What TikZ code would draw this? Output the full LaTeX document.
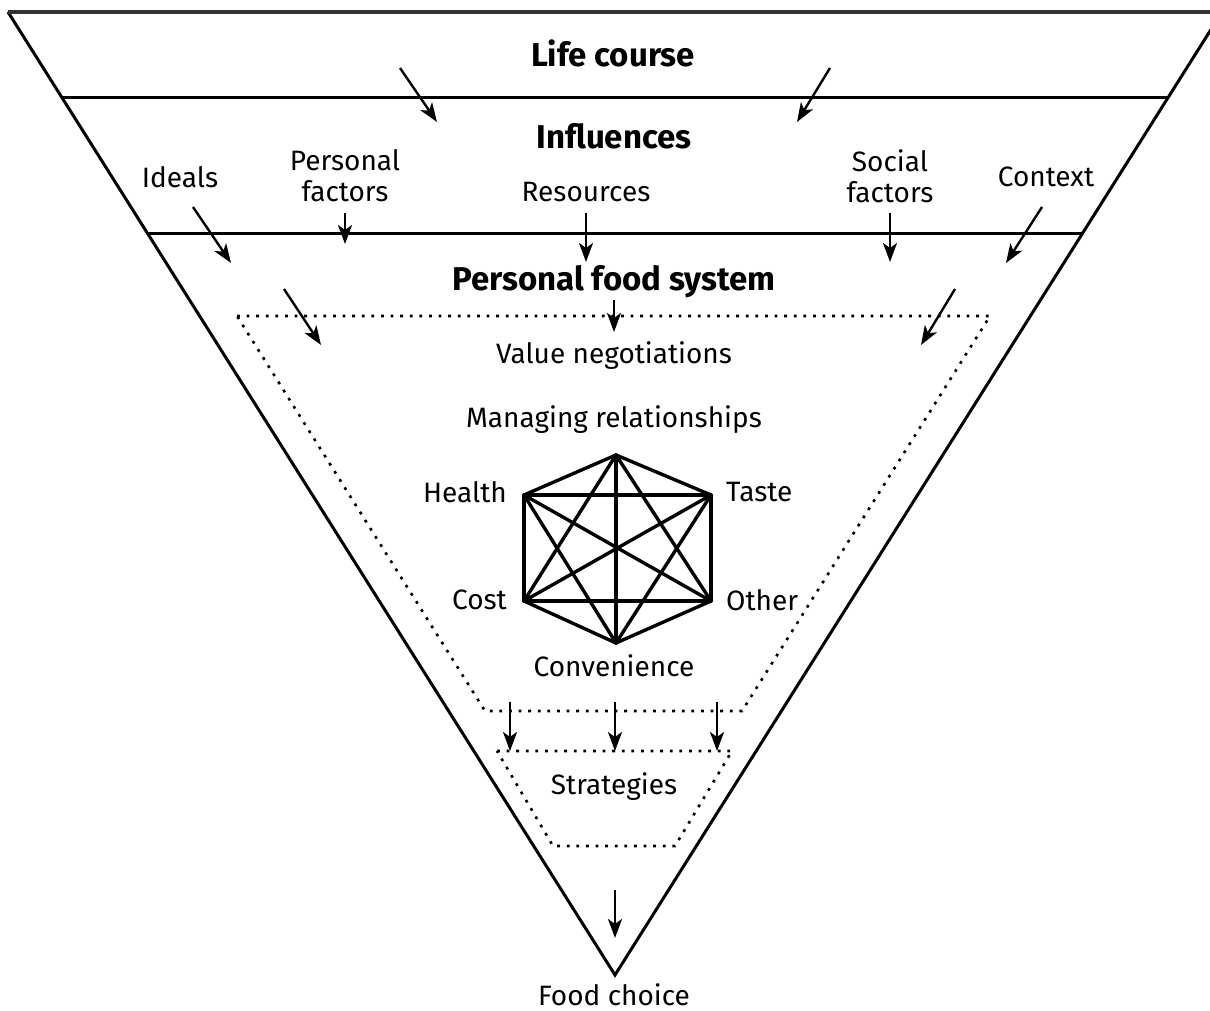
\documentclass[tikz,border=0pt]{standalone}
\usepackage{fontspec}
\setmainfont{Fira Sans}
\usetikzlibrary{arrows.meta,calc}
\begin{document}
\begin{tikzpicture}[x=1pt,y=-1pt,
  lbl/.style={font=\fontsize{28}{31}\selectfont, inner sep=0pt, align=center},
  head/.style={font=\fontsize{33}{36}\selectfont\bfseries, inner sep=0pt},
  arr/.style={line width=2.4pt, -{Stealth[length=19pt,width=14pt,inset=5pt]}},
  frame/.style={line width=3pt},
  dots/.style={line width=2.6pt, dash pattern=on 2.8pt off 6.8pt},
  edge/.style={line width=3.4pt, line cap=round}]
\useasboundingbox (0,0) rectangle (1210,1011);
\begin{scope}
\clip (0,0) rectangle (1210,1011);
% frame
\coordinate (TL) at (8,12);
\coordinate (TR) at (1222,12);
\coordinate (A) at (615,975);
\draw[frame, line join=miter] (TL) -- (A) -- (TR);
\draw[line width=4pt, black!80] (TL) -- (TR);
\coordinate (L2) at ($(TL)!0.0883!(A)$);
\coordinate (R2) at ($(TR)!0.0883!(A)$);
\coordinate (L3) at ($(TL)!0.2295!(A)$);
\coordinate (R3) at ($(TR)!0.2295!(A)$);
\draw[frame] (L2) -- (R2);
\draw[frame] (L3) -- (R3);
\end{scope}

% headings
\node[head] (life) at (613,53) {Life course};
\node[head] (infl) at (614,136) {Influences};
\node[head] (pfs) at (614,282) {Personal food system};

% influence labels
\node[lbl] (ideals) at (180,177) {Ideals};
\node[lbl] (pers) at (345,176) {Personal\\factors};
\node[lbl] (res) at (586,192) {Resources};
\node[lbl] (soc) at (890,176) {Social\\factors};
\node[lbl] (ctx) at (1046,177) {Context};

\node[lbl] (val) at (614,356) {Value negotiations};
\node[lbl] (man) at (614,420) {Managing relationships};

% hexagon
\coordinate (hT) at (616,455);
\coordinate (hH) at (524,495);
\coordinate (hTa) at (711,495);
\coordinate (hC) at (524,601);
\coordinate (hO) at (711,601);
\coordinate (hB) at (616,643);
\foreach \a/\b in {hT/hH,hT/hTa,hT/hC,hT/hO,hT/hB,hH/hTa,hH/hC,hH/hO,hH/hB,hTa/hC,hTa/hO,hTa/hB,hC/hO,hC/hB,hO/hB}
  \draw[edge] (\a) -- (\b);

\node[lbl, anchor=east] (health) at (507,492) {Health};
\node[lbl, anchor=west] (taste) at (726,492) {Taste};
\node[lbl, anchor=east] (cost) at (507,600) {Cost};
\node[lbl, anchor=west] (other) at (726,600) {Other};
\node[lbl] (conv) at (614,666) {Convenience};

\node[lbl] (strat) at (614,787) {Strategies};
\node[lbl] (food) at (614,995) {Food choice};

% dotted regions
\draw[dots] (237,316) -- (990,316) -- (742,711) -- (485,711) -- cycle;
\draw[dots] (497,751) -- (732,751) -- (675,846) -- (553,846) -- cycle;

% arrows
\coordinate (a1s) at (400,68);  \coordinate (a1e) at (437,122);
\coordinate (a2s) at (830,68);  \coordinate (a2e) at (797,122);
\draw[arr] (a1s) -- (a1e);
\draw[arr] (a2s) -- (a2e);

\coordinate (b1s) at (193,207); \coordinate (b1e) at (231,263);
\coordinate (b2s) at (345,213); \coordinate (b2e) at (345,244);
\coordinate (b3s) at (586,213); \coordinate (b3e) at (586,262);
\coordinate (b4s) at (890,213); \coordinate (b4e) at (890,262);
\coordinate (b5s) at (1042,207); \coordinate (b5e) at (1006,263);
\foreach \i in {1,...,5} \draw[arr] (b\i s) -- (b\i e);

\coordinate (c1s) at (284,289); \coordinate (c1e) at (321,345);
\coordinate (c2s) at (614,300); \coordinate (c2e) at (614,332);
\coordinate (c3s) at (955,289); \coordinate (c3e) at (921,345);
\foreach \i in {1,2,3} \draw[arr] (c\i s) -- (c\i e);

\coordinate (d1s) at (510,702); \coordinate (d1e) at (510,751);
\coordinate (d2s) at (615,702); \coordinate (d2e) at (615,751);
\coordinate (d3s) at (717,702); \coordinate (d3e) at (717,751);
\foreach \i in {1,2,3} \draw[arr] (d\i s) -- (d\i e);

\coordinate (es) at (615,890); \coordinate (ee) at (615,938);
\draw[arr] (es) -- (ee);
\end{tikzpicture}
\end{document}
